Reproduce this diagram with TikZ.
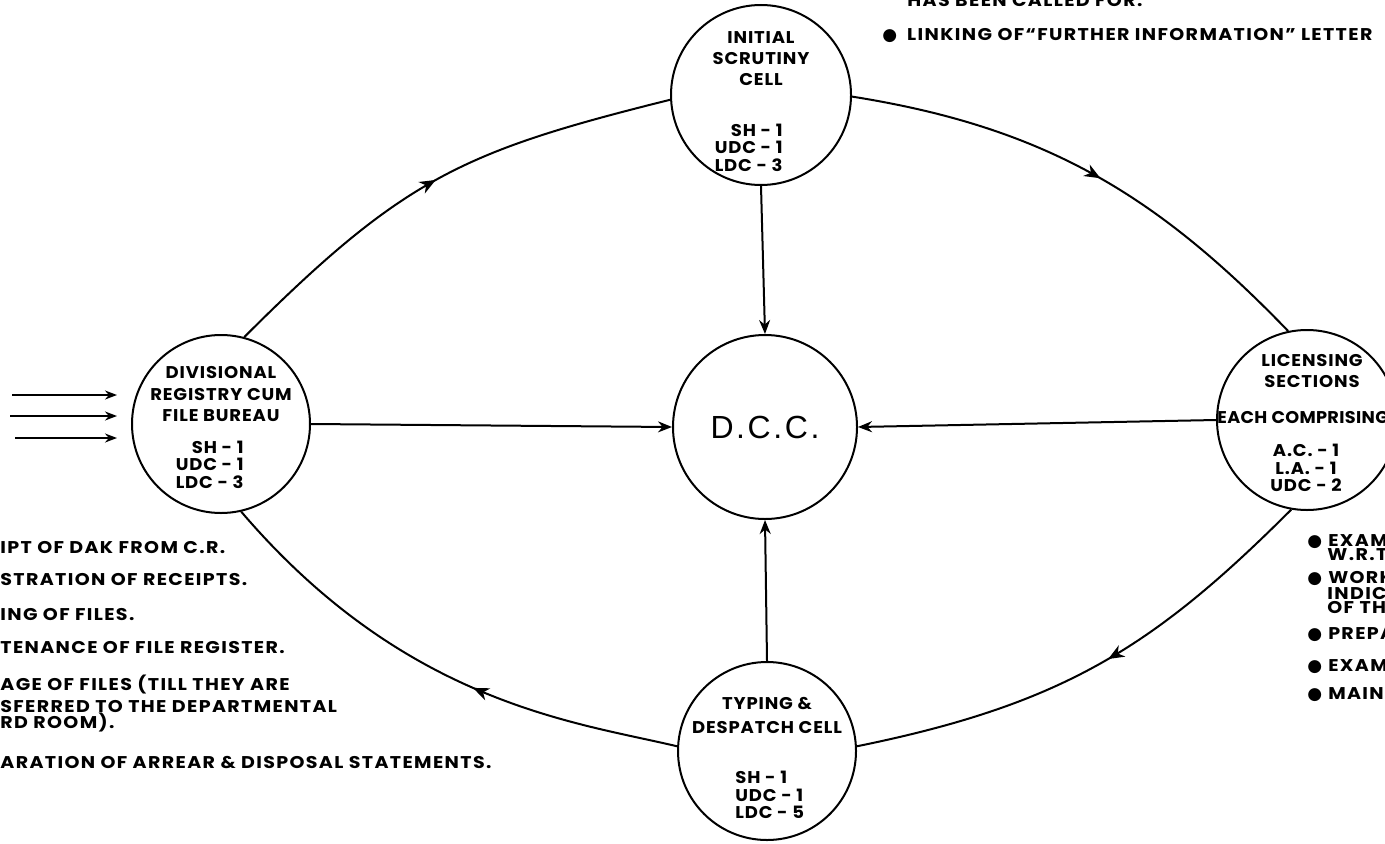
\documentclass[tikz,border=0pt]{standalone}
\usepackage{fontspec}
\setmainfont{Poppins}
\newfontfamily\circfont{Poppins}[FakeStretch=1.06,LetterSpace=5]
\newfontfamily\tightfont{Poppins}[FakeStretch=1.04,LetterSpace=2]
\newfontfamily\listfont{Poppins}[FakeStretch=1.12,LetterSpace=8]
\newfontfamily\dccfont{Liberation Sans}[LetterSpace=8]
\newfontfamily\symfont{DejaVu Sans}
\usetikzlibrary{arrows.meta,decorations.markings}
\newcommand\lettfont{\circfont\bfseries\fontsize{8.5}{10.5}\selectfont}
\newcommand\stafffont{\circfont\bfseries\fontsize{8.5}{8.75}\selectfont}
\newcommand\listtxt{\listfont\bfseries\fontsize{8.5}{10.5}\selectfont}
\newcommand\bul{{\symfont ●}\hspace{3pt}}
\tikzset{
  unit/.style={circle,draw,line width=1pt,inner sep=0pt,fill=white},
  hdr/.style={font=\lettfont,inner sep=0pt,align=center},
  staff/.style={font=\stafffont,inner sep=0pt},
  lst/.style={font=\listtxt,inner sep=0pt},
  conn/.style={line width=1pt,-{Stealth[length=7pt,width=5.5pt]}},
  feed/.style={line width=0.9pt,-{Stealth[length=6pt,width=4.5pt]}},
  flow/.style={line width=1pt,postaction={decorate},
    decoration={markings,mark=at position #1 with {\arrow{Stealth[length=8pt,width=6.5pt,inset=2.5pt]}}}},
  flow/.default=0.5
}
\begin{document}
\begin{tikzpicture}[x=0.5pt,y=0.5pt]
\useasboundingbox (0,0) rectangle (1385,843);
\fill[white] (0,0) rectangle (1385,843);

% units
\node[unit,minimum size=90pt] (T) at (761,748) {};
\node[unit,minimum size=92pt] (D) at (765,416) {};
\node[unit,minimum size=89pt] (L) at (221,419) {};
\node[unit,minimum size=90pt] (R) at (1307,423) {};
\node[unit,minimum size=89pt] (B) at (767,92) {};

% ring connectors
\draw[flow=0.5] (L.75) .. controls +(45:226) and +(194:213) .. (T.183);
\draw[flow=0.52] (T.-1) .. controls +(-9:196) and +(134:189) .. (R.102);
\draw[flow=0.47] (R.260) .. controls +(225:195) and +(11.5:210) .. (B.3);
\draw[flow=0.42] (B.177.5) .. controls +(166.6:104) and +(-49.5:253) .. (L.283);

% spokes
\draw[conn] (T.south) -- (D.north);
\draw[conn] (L.east) -- (D.west);
\draw[conn] (R.west) -- (D.east);
\draw[conn] (B.north) -- (D.south);

% inputs
\coordinate (i1s) at (12,448); \coordinate (i1e) at (117,448);
\coordinate (i2s) at (10,427); \coordinate (i2e) at (117,427);
\coordinate (i3s) at (15,405); \coordinate (i3e) at (117,405);
\draw[feed] (i1s) -- (i1e);
\draw[feed] (i2s) -- (i2e);
\draw[feed] (i3s) -- (i3e);

% texts in units
\node[hdr] (Th) at (761,784) {INITIAL\\SCRUTINY\\CELL};
\node[staff,align=right,anchor=east] (Ts) at (783,695.5) {SH - 1\\UDC - 1\\LDC - 3};
\node[font=\dccfont\fontsize{16}{16}\selectfont,inner sep=0pt] (Dt) at (765,416) {D.C.C.};
\node[hdr] (Lh) at (221,449) {DIVISIONAL\\REGISTRY CUM\\FILE BUREAU};
\node[staff,align=right,anchor=east] (Ls) at (244,378.5) {SH - 1\\UDC - 1\\LDC - 3};
\node[hdr] (Rh) at (1312,472) {LICENSING\\SECTIONS};
\node[inner sep=0pt,anchor=west,font=\tightfont\bfseries\fontsize{8.5}{10.5}\selectfont] (Re) at (1217,425) {EACH COMPRISING};
\node[staff,align=center] (Rs) at (1306,375) {A.C. - 1\\L.A. - 1\\UDC - 2};
\node[hdr,font=\circfont\bfseries\fontsize{8.5}{12}\selectfont] (Bh) at (767,128) {TYPING \&\\DESPATCH CELL};
\node[staff,align=left,anchor=west] (Bs) at (735,48) {SH - 1\\UDC - 1\\LDC - 5};

% left list
\node[lst,anchor=west] (a1) at (0,295) {IPT OF DAK FROM C.R.};
\node[lst,anchor=west] (a2) at (0,263) {STRATION OF RECEIPTS.};
\node[lst,anchor=west] (a3) at (0,228) {ING OF FILES.};
\node[lst,anchor=west] (a4) at (0,195) {TENANCE OF FILE REGISTER.};
\node[lst,anchor=west] (a5) at (0,158) {AGE OF FILES (TILL THEY ARE};
\node[lst,anchor=west] (a6) at (0,137) {SFERRED TO THE DEPARTMENTAL};
\node[lst,anchor=west] (a7) at (0,120) {RD ROOM).};
\node[lst,anchor=west] (a8) at (0,81) {ARATION OF ARREAR \& DISPOSAL STATEMENTS.};

% top right list
\node[lst,anchor=base west] (b0) at (907,836) {HAS BEEN CALLED FOR.};
\node[lst,anchor=west] (b1) at (882,808) {\bul\hspace{2pt}LINKING OF“FURTHER INFORMATION” LETTER};

% right list
\node[lst,anchor=west] (c1) at (1307,301) {\bul EXAM};
\node[lst,anchor=west] (c2) at (1327,288) {W.R.T};
\node[lst,anchor=west] (c3) at (1307,265) {\bul WORK};
\node[lst,anchor=west] (c4) at (1327,250) {INDIC};
\node[lst,anchor=west] (c5) at (1327,236) {OF TH};
\node[lst,anchor=west] (c6) at (1307,208) {\bul PREPA};
\node[lst,anchor=west] (c7) at (1307,176) {\bul EXAM};
\node[lst,anchor=west] (c8) at (1307,148) {\bul MAINT};
\end{tikzpicture}
\end{document}
